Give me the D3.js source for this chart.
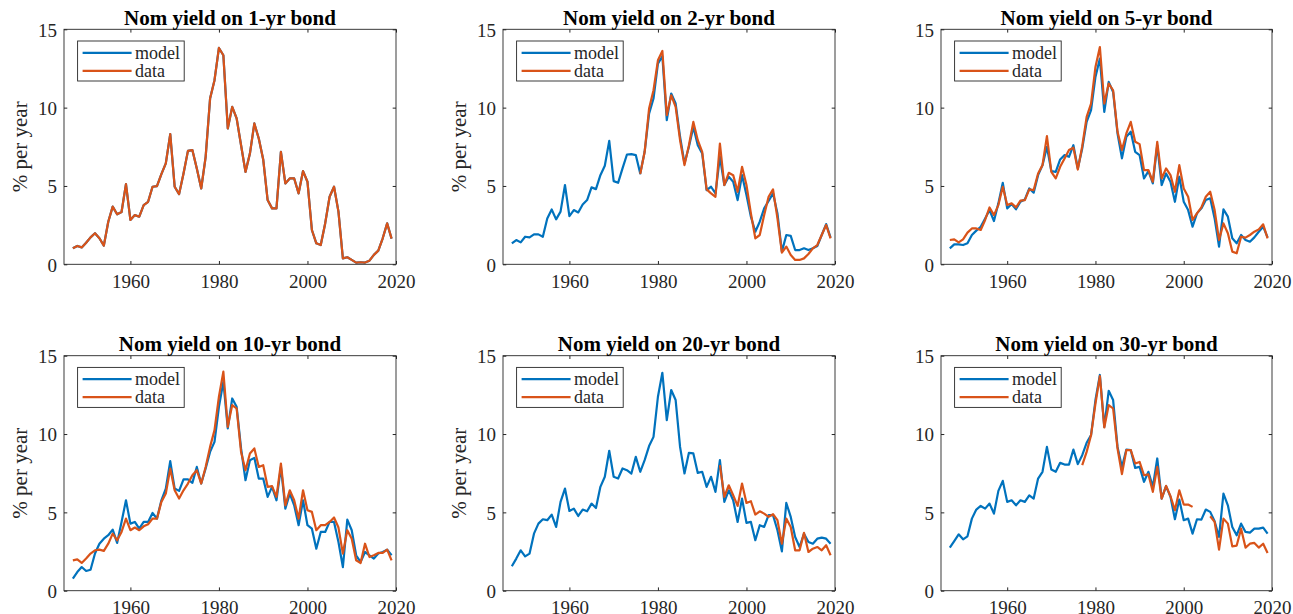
<!DOCTYPE html>
<html lang="en">
<head>
	<meta charset="utf-8">
	<title>Nominal yields: model vs data</title>
	<script src="https://d3js.org/d3.v7.min.js"></script>
	<style>
		body {
			margin: 0;
			background: #ffffff;
			font-family: "Liberation Serif", "Times New Roman", serif;
		}
		.tick text {
			font-family: "Liberation Serif", "Times New Roman", serif;
			font-size: 19px;
			fill: #262626;
		}
		.tick line {
			stroke: #262626;
		}
	</style>
</head>
<body>
	<script>
	// years on the x axis (one point a year)
	var years = [1947, 1948, 1949, 1950, 1951, 1952, 1953, 1954, 1955, 1956,
		1957, 1958, 1959, 1960, 1961, 1962, 1963, 1964, 1965, 1966,
		1967, 1968, 1969, 1970, 1971, 1972, 1973, 1974, 1975, 1976,
		1977, 1978, 1979, 1980, 1981, 1982, 1983, 1984, 1985, 1986,
		1987, 1988, 1989, 1990, 1991, 1992, 1993, 1994, 1995, 1996,
		1997, 1998, 1999, 2000, 2001, 2002, 2003, 2004, 2005, 2006,
		2007, 2008, 2009, 2010, 2011, 2012, 2013, 2014, 2015, 2016,
		2017, 2018, 2019];

	var xTicks = [1960, 1980, 2000, 2020];
	var yTicks = [0, 5, 10, 15];

	var titles = ["Nom yield on 1-yr bond", "Nom yield on 2-yr bond", "Nom yield on 5-yr bond",
		"Nom yield on 10-yr bond", "Nom yield on 20-yr bond", "Nom yield on 30-yr bond"];
	var legendLabels = ["model", "data"];
	var yLabel = "% per year";

	// 1-yr: the model fits the data exactly, so both lines are the same
	var data1 = [1.02, 1.17, 1.08, 1.38, 1.72, 1.98, 1.66, 1.19, 2.72, 3.68,
		3.19, 3.34, 5.12, 2.83, 3.14, 3.04, 3.78, 3.99, 4.95, 4.99,
		5.76, 6.44, 8.31, 4.95, 4.48, 5.80, 7.24, 7.29, 6.12, 4.84,
		6.86, 10.58, 11.75, 13.81, 13.34, 8.67, 10.05, 9.31, 7.60, 5.90,
		7.07, 8.99, 8.03, 6.69, 4.10, 3.57, 3.57, 7.18, 5.16, 5.48,
		5.48, 4.53, 5.95, 5.27, 2.19, 1.34, 1.23, 2.61, 4.31, 4.95,
		3.36, 0.38, 0.45, 0.28, 0.11, 0.13, 0.11, 0.23, 0.60, 0.87,
		1.66, 2.61, 1.64];
	var model1 = data1;

	var model2 = [1.34, 1.55, 1.40, 1.76, 1.72, 1.91, 1.91, 1.76, 2.93, 3.50,
		2.87, 3.36, 5.06, 3.08, 3.46, 3.31, 3.82, 4.10, 4.91, 4.80,
		5.69, 6.29, 7.88, 5.31, 5.20, 6.12, 7.01, 7.03, 6.97, 5.80,
		7.18, 9.62, 10.58, 12.81, 13.28, 9.20, 10.90, 10.26, 8.14, 6.44,
		7.50, 8.77, 7.60, 7.07, 4.74, 4.95, 4.53, 6.86, 5.06, 5.59,
		5.27, 4.10, 5.69, 4.42, 3.04, 2.08, 2.72, 3.57, 4.04, 4.53,
		3.25, 0.81, 1.87, 1.81, 0.91, 0.91, 1.02, 0.91, 1.02, 1.17,
		1.87, 2.57, 1.70];
	// data starts in 1976
	var data2From = 1976;
	var data2 = [5.76,
		7.18, 9.94, 11.11, 13.02, 13.62, 9.52, 10.79, 10.05, 7.92, 6.33,
		7.60, 9.09, 7.92, 7.18, 4.78, 4.53, 4.31, 7.71, 5.06, 5.84,
		5.69, 4.63, 6.22, 5.06, 3.25, 1.66, 1.87, 3.14, 4.31, 4.78,
		2.93, 0.74, 1.13, 0.60, 0.28, 0.28, 0.38, 0.66, 1.02, 1.23,
		1.87, 2.51, 1.66];

	var model5 = [1.02, 1.27, 1.27, 1.23, 1.34, 1.87, 2.15, 2.40, 2.93, 3.46,
		2.76, 3.89, 5.20, 3.57, 3.85, 3.51, 3.99, 4.14, 4.84, 4.57,
		5.69, 6.33, 7.50, 5.95, 5.90, 6.69, 6.97, 6.86, 7.60, 6.12,
		7.39, 9.09, 9.84, 11.96, 13.13, 9.73, 11.64, 11.00, 8.35, 6.76,
		8.14, 8.46, 7.18, 6.97, 5.48, 5.95, 5.16, 7.60, 5.06, 5.80,
		5.27, 3.99, 5.59, 3.99, 3.46, 2.40, 3.25, 3.57, 4.10, 4.21,
		2.93, 1.13, 3.51, 3.04, 1.66, 1.34, 1.87, 1.55, 1.44, 1.72,
		2.08, 2.40, 1.72];
	var data5From = 1947;
	var data5 = [1.55, 1.59, 1.40, 1.59, 2.02, 2.29, 2.29, 2.19, 2.83, 3.63,
		3.14, 3.78, 4.95, 3.78, 3.89, 3.63, 4.06, 4.10, 4.78, 4.74,
		5.80, 6.33, 8.18, 5.90, 5.48, 6.22, 6.76, 7.29, 7.44, 6.05,
		7.54, 9.41, 10.26, 12.60, 13.87, 10.26, 11.54, 11.11, 8.46, 7.29,
		8.35, 9.09, 7.82, 7.67, 6.01, 6.01, 5.27, 7.82, 5.48, 6.12,
		5.69, 4.63, 6.33, 4.84, 4.31, 2.83, 3.25, 3.63, 4.31, 4.63,
		3.46, 1.55, 2.61, 1.98, 0.81, 0.70, 1.76, 1.70, 1.87, 2.08,
		2.23, 2.55, 1.66];

	var model10 = [0.77, 1.19, 1.51, 1.26, 1.34, 2.37, 3.00, 3.32, 3.54, 3.90,
		3.05, 4.39, 5.77, 4.28, 4.39, 3.96, 4.39, 4.39, 4.96, 4.60,
		5.77, 6.52, 8.27, 6.52, 6.37, 7.10, 7.10, 6.88, 7.90, 6.84,
		7.80, 8.86, 9.50, 11.74, 13.34, 10.36, 12.27, 11.74, 9.08, 7.05,
		8.33, 8.48, 7.16, 7.16, 5.99, 6.63, 5.77, 7.90, 5.24, 6.20,
		5.45, 4.18, 5.77, 4.18, 3.96, 2.68, 3.75, 3.75, 4.39, 4.39,
		3.11, 1.51, 4.54, 3.86, 2.26, 1.83, 2.47, 2.26, 2.05, 2.37,
		2.47, 2.62, 2.26];
	var data10From = 1947;
	var data10 = [1.94, 2.00, 1.77, 2.05, 2.37, 2.58, 2.62, 2.54, 3.00, 3.64,
		3.22, 3.75, 4.60, 3.86, 4.03, 3.86, 4.11, 4.24, 4.60, 4.60,
		5.67, 6.20, 7.80, 6.41, 5.88, 6.41, 6.84, 7.37, 7.69, 6.84,
		7.90, 9.18, 10.25, 12.38, 13.98, 10.46, 11.85, 11.63, 8.86, 7.69,
		8.76, 9.08, 7.90, 8.01, 6.63, 6.67, 5.99, 8.12, 5.45, 6.41,
		5.77, 4.60, 6.41, 5.14, 5.03, 3.86, 4.18, 4.18, 4.39, 4.67,
		4.03, 2.37, 3.86, 3.32, 1.94, 1.77, 3.00, 2.15, 2.26, 2.41,
		2.41, 2.62, 1.94];

	var model20 = [1.56, 2.05, 2.58, 2.19, 2.37, 3.64, 4.28, 4.56, 4.50, 4.86,
		4.07, 5.67, 6.52, 5.09, 5.24, 4.77, 5.18, 5.07, 5.56, 5.28,
		6.63, 7.27, 8.93, 7.27, 7.16, 7.80, 7.69, 7.48, 8.54, 7.59,
		8.33, 9.23, 9.82, 12.38, 13.91, 10.89, 12.81, 12.17, 9.18, 7.48,
		8.80, 8.76, 7.52, 7.59, 6.63, 7.27, 6.31, 8.33, 5.67, 6.41,
		5.77, 4.39, 5.88, 4.33, 4.39, 3.22, 4.18, 4.07, 4.82, 4.82,
		3.86, 2.51, 5.60, 4.71, 3.43, 2.79, 3.64, 3.11, 3.00, 3.32,
		3.39, 3.32, 3.00];
	var data20From = 1994;
	var data20 = [8.01, 5.99, 6.73, 6.09, 5.41, 6.84, 5.60, 5.71, 4.86, 5.07,
		4.92, 4.71, 4.88, 4.50, 3.00, 4.60, 4.07, 2.58, 2.58, 3.69,
		2.47, 2.68, 2.79, 2.58, 2.90, 2.26];

	var model30 = [2.75, 3.17, 3.60, 3.28, 3.47, 4.60, 5.18, 5.41, 5.24, 5.56,
		4.92, 6.37, 7.01, 5.67, 5.77, 5.45, 5.77, 5.67, 6.09, 5.88,
		7.16, 7.59, 9.18, 7.73, 7.59, 8.16, 8.05, 8.05, 9.01, 8.08,
		8.65, 9.44, 9.93, 12.17, 13.77, 10.46, 12.76, 12.17, 9.18, 7.90,
		9.01, 8.97, 7.84, 7.90, 6.95, 7.59, 6.63, 8.44, 5.88, 6.67,
		5.99, 4.56, 5.82, 4.50, 4.60, 3.64, 4.56, 4.54, 5.18, 5.03,
		4.43, 3.43, 6.20, 5.45, 4.07, 3.54, 4.28, 3.75, 3.71, 3.96,
		3.96, 4.03, 3.64];
	// 30-yr data begins 1977 and is missing 2003-2005
	var data30From = 1977;
	var data30 = [8.01, 8.86, 9.93, 11.95, 13.70, 10.42, 11.85, 11.63, 9.08, 7.44,
		8.97, 8.97, 8.12, 8.22, 7.37, 7.42, 6.31, 7.90, 5.88, 6.69,
		6.03, 5.14, 6.41, 5.50, 5.50, 5.35, null, null, null, 4.75,
		4.39, 2.62, 4.60, 4.28, 2.83, 2.88, 3.96, 2.75, 3.00, 3.05,
		2.75, 3.00, 2.41];

	var models = [model1, model2, model5, model10, model20, model30];
	var datas = [data1, data2, data5, data10, data20, data30];
	var dataFrom = [1947, data2From, data5From, data10From, data20From, data30From];

	var modelColor = "#0072BD";
	var dataColor = "#D95319";
	var ink = "#262626";

	var width = 1293;
	var height = 614;

	var svg = d3.select("body")
		.append("svg")
		.attr("width", width)
		.attr("height", height);

	// axes boxes, as placed by the subplot grid
	var lefts = [64, 503, 941];
	var boxW = [332, 332, 331];
	var tops = [29.3, 355.7];
	var boxH = 235;

	function drawPanel(k) {
		var col = k % 3, row = Math.floor(k / 3);
		var w = boxW[col], h = boxH;
		var g = svg.append("g")
			.attr("transform", "translate(" + lefts[col] + "," + tops[row] + ")");

		var x = d3.scaleLinear().domain([1945, 2020]).range([0, w]);
		var y = d3.scaleLinear().domain([0, 15]).range([h, 0]);

		// lines
		var line = d3.line()
			.defined(function(d) { return d[1] !== null; })
			.x(function(d) { return x(d[0]); })
			.y(function(d) { return y(d[1]); });

		var modelPts = years.map(function(yr, i) { return [yr, models[k][i]]; });
		var dataPts = datas[k].map(function(v, i) { return [dataFrom[k] + i, v]; });

		g.append("path")
			.datum(modelPts)
			.attr("d", line)
			.attr("fill", "none")
			.attr("stroke", modelColor)
			.attr("stroke-width", 2.2)
			.attr("stroke-linejoin", "round");

		g.append("path")
			.datum(dataPts)
			.attr("d", line)
			.attr("fill", "none")
			.attr("stroke", dataColor)
			.attr("stroke-width", 2.2)
			.attr("stroke-linejoin", "round");

		// axes, ticks inside on all four sides
		var bottom = g.append("g")
			.attr("transform", "translate(0," + h + ")")
			.call(d3.axisBottom(x).tickValues(xTicks).tickSize(-3.3).tickSizeOuter(0)
				.tickPadding(10).tickFormat(d3.format("d")));
		var top = g.append("g")
			.call(d3.axisTop(x).tickValues(xTicks).tickSize(-3.3).tickSizeOuter(0).tickFormat(""));
		var left = g.append("g")
			.call(d3.axisLeft(y).tickValues(yTicks).tickSize(-3.3).tickSizeOuter(0).tickPadding(7));
		var right = g.append("g")
			.attr("transform", "translate(" + w + ",0)")
			.call(d3.axisRight(y).tickValues(yTicks).tickSize(-3.3).tickSizeOuter(0).tickFormat(""));

		[bottom, top, left, right].forEach(function(a) {
			a.select(".domain").remove();
		});
		left.selectAll(".tick text").attr("dy", "0.36em");

		g.append("rect")
			.attr("width", w)
			.attr("height", h)
			.attr("fill", "none")
			.attr("stroke", ink)
			.attr("stroke-width", 0.9);

		// title
		g.append("text")
			.attr("x", w / 2)
			.attr("y", -4.5)
			.attr("text-anchor", "middle")
			.style("font-size", "21px")
			.style("font-weight", "bold")
			.attr("fill", "#000")
			.text(titles[k]);

		// y label on the first two columns only
		if (col < 2) {
			g.append("text")
				.attr("transform", "translate(-37," + (h / 2) + ") rotate(-90)")
				.attr("text-anchor", "middle")
				.style("font-size", "21px")
				.attr("fill", ink)
				.text(yLabel);
		}

		// legend
		var lg = g.append("g").attr("transform", "translate(13.6,11.7)");
		lg.append("rect")
			.attr("width", 106.6)
			.attr("height", 40)
			.attr("fill", "#fff")
			.attr("stroke", ink)
			.attr("stroke-width", 0.9);
		[modelColor, dataColor].forEach(function(c, i) {
			var yy = 11.8 + i * 18;
			lg.append("line")
				.attr("x1", 5).attr("x2", 54)
				.attr("y1", yy).attr("y2", yy)
				.attr("stroke", c)
				.attr("stroke-width", 2.2);
			lg.append("text")
				.attr("x", 57.5)
				.attr("y", yy)
				.attr("dy", "0.33em")
				.style("font-size", "18px")
				.attr("fill", ink)
				.text(legendLabels[i]);
		});
	}

	for (var k = 0; k < 6; k++) {
		drawPanel(k);
	}
	</script>
</body>
</html>
